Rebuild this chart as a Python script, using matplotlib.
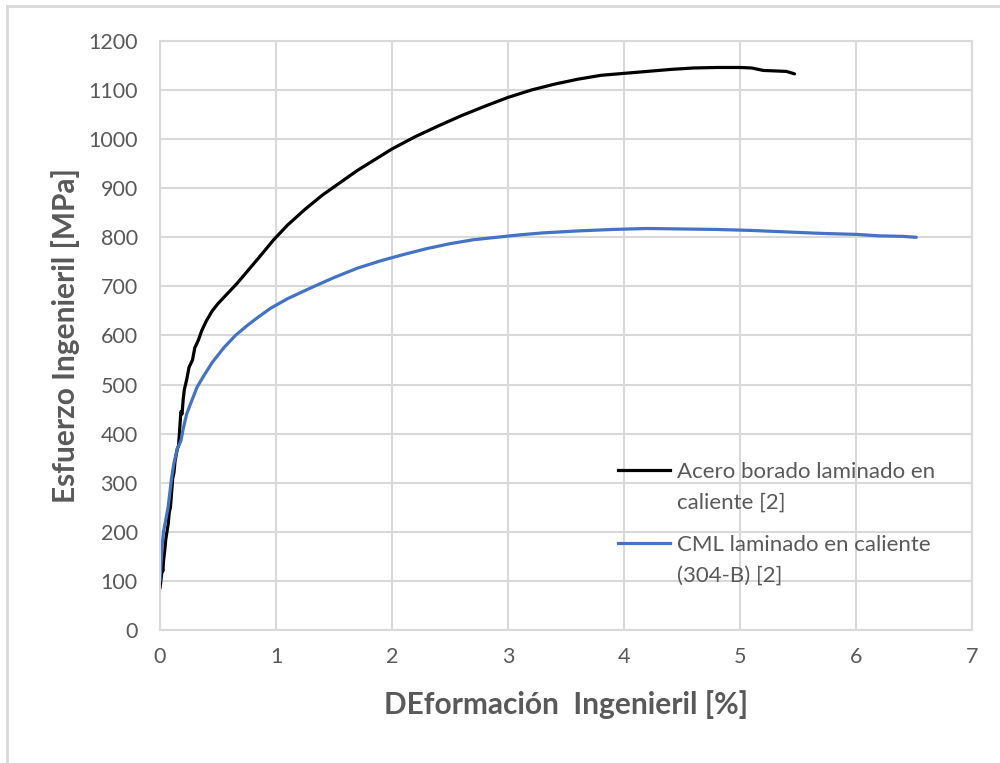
import matplotlib
matplotlib.use('Agg')
import matplotlib.pyplot as plt
from matplotlib.lines import Line2D

# Curva 1: acero borado laminado en caliente
def_acero = [0.0, 0.01, 0.02, 0.025, 0.03, 0.04, 0.05, 0.06, 0.07, 0.08, 0.09, 0.10,
             0.11, 0.12, 0.13, 0.15, 0.16, 0.17, 0.18, 0.19, 0.20, 0.21, 0.23, 0.25,
             0.28, 0.30, 0.33, 0.36, 0.40, 0.45, 0.50, 0.58, 0.66, 0.75, 0.85, 0.98,
             1.1, 1.25, 1.4, 1.55, 1.7, 1.85, 2.0, 2.2, 2.4, 2.6, 2.8, 3.0, 3.2, 3.4,
             3.6, 3.8, 4.0, 4.2, 4.4, 4.6, 4.8, 5.0, 5.1, 5.2, 5.3, 5.4, 5.47]
esf_acero = [85, 105, 125, 120, 140, 160, 185, 200, 215, 240, 250, 280,
             310, 320, 345, 370, 375, 410, 445, 440, 470, 490, 510, 535,
             550, 575, 590, 610, 630, 650, 665, 685, 705, 730, 758, 795,
             825, 857, 886, 911, 936, 958, 980, 1005, 1027, 1048, 1067, 1085, 1100, 1112,
             1122, 1130, 1134, 1138, 1142, 1145, 1146, 1146, 1145, 1140, 1139, 1138, 1133]

# Curva 2: CML laminado en caliente (304-B)
def_cml = [0.0, 0.01, 0.02, 0.03, 0.05, 0.07, 0.09, 0.10, 0.12, 0.15, 0.18, 0.20,
           0.23, 0.27, 0.32, 0.37, 0.45, 0.55, 0.65, 0.75, 0.85, 0.95, 1.1, 1.3,
           1.5, 1.7, 1.9, 2.1, 2.3, 2.5, 2.7, 2.9, 3.1, 3.3, 3.6, 3.9, 4.2, 4.5,
           4.8, 5.1, 5.4, 5.7, 6.0, 6.2, 6.4, 6.52]
esf_cml = [100, 140, 175, 200, 225, 250, 290, 310, 340, 370, 385, 410,
           440, 465, 495, 515, 545, 575, 600, 620, 638, 655, 675, 697,
           718, 737, 752, 765, 777, 787, 795, 800, 805, 809, 813, 816, 818, 817,
           816, 814, 811, 808, 806, 803, 802, 800]

etiquetas = [['Acero borado laminado en', 'caliente [2]'],
             ['CML laminado en caliente', '(304-B) [2]']]

gris = '#595959'
plt.rcParams['font.family'] = ['Lato', 'DejaVu Sans']

fig = plt.figure(figsize=(10, 7.63), dpi=100)
ax = fig.add_axes([0.16, 0.1743, 0.812, 0.772])

ax.plot(def_acero, esf_acero, color='black', lw=2.3, solid_capstyle='round')
ax.plot(def_cml, esf_cml, color='#4472C4', lw=2.3, solid_capstyle='round')

ax.set_xlim(0, 7)
ax.set_ylim(0, 1200)
ax.set_xticks(range(0, 8))
ax.set_yticks(range(0, 1201, 100))
ax.grid(True, color='#d9d9d9', lw=1.5)
ax.set_axisbelow(True)
for s in ax.spines.values():
    s.set_color('#d9d9d9')
    s.set_linewidth(1.5)
ax.tick_params(length=0, labelsize=15.5, colors=gris)
ax.tick_params(axis='y', pad=16)
ax.tick_params(axis='x', pad=12)

ax.set_xlabel('DEformación  Ingenieril [%]', fontsize=21.5, fontweight='bold',
              color=gris, labelpad=17)
ax.set_ylabel('Esfuerzo Ingenieril [MPa]', fontsize=21.5, fontweight='bold',
              color=gris, labelpad=6)

# Leyenda dibujada a mano (linea alineada con la primera fila del texto)
H = 763
for (yl, col, lineas) in [(470, 'black', etiquetas[0]), (543, '#4472C4', etiquetas[1])]:
    fig.add_artist(Line2D([0.618, 0.670], [1 - yl / H] * 2, color=col, lw=2.3))
    for i, txt in enumerate(lineas):
        base = yl + 8 + 30.5 * i
        fig.text(0.677, 1 - base / H, txt, fontsize=16, color=gris, va='baseline')

# Marco del area del grafico
fig.add_artist(Line2D([0.007, 1.0], [1 - 6 / H] * 2, color='#d9d9d9', lw=2))
fig.add_artist(Line2D([0.007, 0.007], [0, 1 - 6 / H], color='#d9d9d9', lw=2))

fig.savefig('out.png', dpi=100)
